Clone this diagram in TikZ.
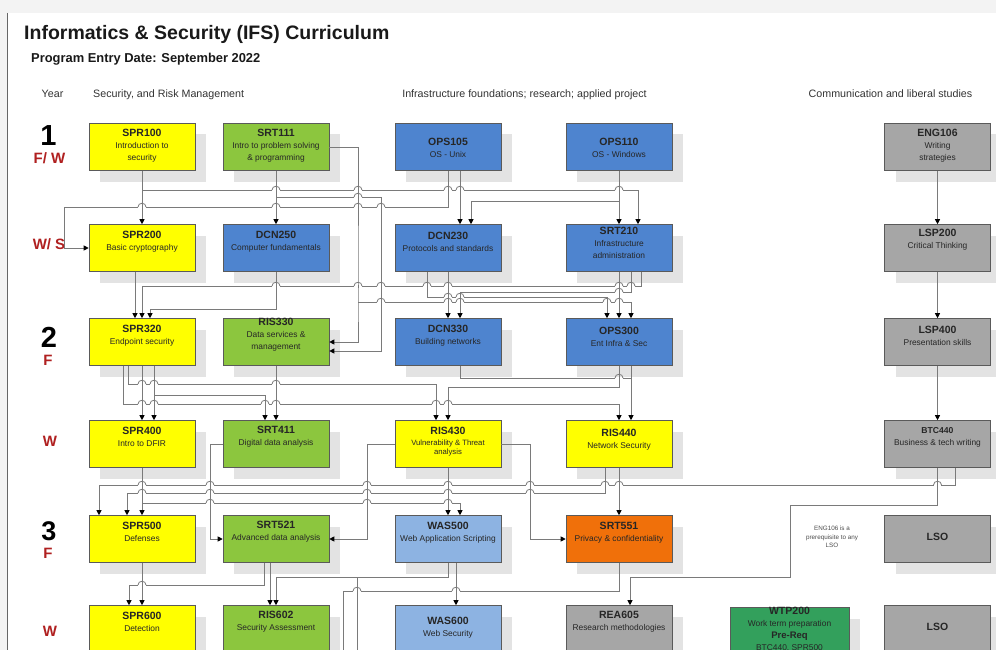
\documentclass[tikz,border=0pt]{standalone}
\usepackage{fontspec}
\setmainfont{Liberation Sans}
\usetikzlibrary{arrows.meta,shadows}
\definecolor{Yel}{HTML}{FFFF00}
\definecolor{Grn}{HTML}{8CC63E}
\definecolor{Blu}{HTML}{4E84CF}
\definecolor{LtBlu}{HTML}{8DB3E2}
\definecolor{Org}{HTML}{F0700A}
\definecolor{Gry}{HTML}{A6A6A6}
\definecolor{DkGrn}{HTML}{33A05C}
\definecolor{Edge}{HTML}{5A5A5A}
\definecolor{Shade}{HTML}{E3E3E3}
\definecolor{Wire}{HTML}{7A7A7A}
\definecolor{YearRed}{HTML}{B02020}
\definecolor{Frame}{HTML}{F3F3F3}

\newcommand{\ccode}[1]{{\fontsize{10.5}{12}\selectfont\bfseries #1}}
% line hop: horizontal wire jumps over a vertical one
\newcommand{\hop}[2]{%
  \fill[white] (#1-3.6,#2-0.9) rectangle (#1+3.6,#2+0.9);
  \draw[conn] (#1,#2-1.5) -- (#1,#2+1.5);
  \draw[conn] (#1-4,#2) .. controls (#1-4,#2-5) and (#1+4,#2-5) .. (#1+4,#2);}

\tikzset{
  cbox/.style={draw=Edge, line width=0.6pt, minimum width=106pt, minimum height=47pt, inner sep=0pt,
    drop shadow={shadow xshift=11pt, shadow yshift=-11pt, fill=Shade, opacity=1}},
  ctext/.style={align=center, inner sep=0pt, text=black!85, font=\fontsize{8.4}{12}\selectfont},
  conn/.style={draw=Wire, line width=0.8pt},
  arr/.style={conn, -{Triangle[length=5pt,width=5pt,color=black]}},
  yr/.style={font=\fontsize{29}{30}\selectfont\bfseries, anchor=base, inner sep=0pt},
  term/.style={text=YearRed, font=\fontsize{15}{16}\selectfont\bfseries, anchor=base, inner sep=0pt},
  head/.style={font=\fontsize{10.7}{12}\selectfont, text=black!80, anchor=base, inner sep=0pt},
}

\begin{document}
\begin{tikzpicture}[x=1pt,y=-1pt]
  \useasboundingbox (0,0) rectangle (996,650);
  \clip (0,0) rectangle (996,650);
  \fill[white] (0,0) rectangle (996,650);
  \fill[Frame] (0,0) rectangle (996,13);
  \fill[Frame] (0,13) rectangle (7,650);
  \draw[black!60, line width=1pt] (7.5,13) -- (7.5,650);

  % titles and column heads
  \node[anchor=base west, inner sep=0pt, font=\fontsize{19.5}{22}\selectfont\bfseries, text=black!90] (title) at (24,40) {Informatics \& Security (IFS) Curriculum};
  \node[anchor=base west, inner sep=0pt, font=\fontsize{12.9}{14}\selectfont\bfseries, text=black!90] (entry) at (31,63) {Program Entry Date: September 2022};
  \node[head] (hyear) at (52.5,98) {Year};
  \node[head, anchor=base west] (hsec) at (93,98) {Security, and Risk Management};
  \node[head] (hinf) at (524.5,98) {Infrastructure foundations; research; applied project};
  \node[head] (hcom) at (890.5,98) {Communication and liberal studies};

  % year and term labels
  \node[yr] (y1) at (48.5,146) {1};
  \node[term] (t1) at (49.5,164) {F/ W};
  \node[term] (t2) at (49,249) {W/ S};
  \node[yr] (y2) at (49,347) {2};
  \node[term] (t3) at (48,365) {F};
  \node[term] (t4) at (50,446) {W};
  \node[yr, font=\fontsize{27}{28}\selectfont\bfseries] (y3) at (49,540) {3};
  \node[term] (t5) at (48,558) {F};
  \node[term] (t6) at (50,636) {W};

  % row 1
  \node[cbox, fill=Yel] (spr100) at (142,147) {};
  \node[ctext] (spr100t) at (142,146) {\ccode{SPR100}\\Introduction to\\security};
  \node[cbox, fill=Grn] (srt111) at (276,147) {};
  \node[ctext] (srt111t) at (276,146) {\ccode{SRT111}\\Intro to problem solving\\\& programming};
  \node[cbox, fill=Blu] (ops105) at (448,147) {};
  \node[ctext] (ops105t) at (448,148) {\ccode{OPS105}\\OS - Unix};
  \node[cbox, fill=Blu] (ops110) at (619,147) {};
  \node[ctext] (ops110t) at (619,148) {\ccode{OPS110}\\OS - Windows};
  \node[cbox, fill=Gry] (eng106) at (937.5,147) {};
  \node[ctext] (eng106t) at (937.5,146) {\ccode{ENG106}\\Writing\\strategies};

  % row 2
  \node[cbox, fill=Yel] (spr200) at (142,248) {};
  \node[ctext] (spr200t) at (142,242) {\ccode{SPR200}\\Basic cryptography};
  \node[cbox, fill=Blu] (dcn250) at (276,248) {};
  \node[ctext] (dcn250t) at (276,242) {\ccode{DCN250}\\Computer fundamentals};
  \node[cbox, fill=Blu] (dcn230) at (448,248) {};
  \node[ctext] (dcn230t) at (448,242) {\ccode{DCN230}\\Protocols and standards};
  \node[cbox, fill=Blu] (srt210) at (619,248) {};
  \node[ctext] (srt210t) at (619,243) {\ccode{SRT210}\\Infrastructure\\administration};
  \node[cbox, fill=Gry] (lsp200) at (937.5,248) {};
  \node[ctext] (lsp200t) at (937.5,240) {\ccode{LSP200}\\Critical Thinking};

  % row 3
  \node[cbox, fill=Yel] (spr320) at (142,342) {};
  \node[ctext] (spr320t) at (142,335.5) {\ccode{SPR320}\\Endpoint security};
  \node[cbox, fill=Grn] (ris330) at (276,342) {};
  \node[ctext] (ris330t) at (276,335) {\ccode{RIS330}\\Data services \&\\management};
  \node[cbox, fill=Blu] (dcn330) at (448,342) {};
  \node[ctext] (dcn330t) at (448,335.5) {\ccode{DCN330}\\Building networks};
  \node[cbox, fill=Blu] (ops300) at (619,342) {};
  \node[ctext] (ops300t) at (619,337) {\ccode{OPS300}\\Ent Infra \& Sec};
  \node[cbox, fill=Gry] (lsp400) at (937.5,342) {};
  \node[ctext] (lsp400t) at (937.5,335.5) {\ccode{LSP400}\\Presentation skills};

  % row 4
  \node[cbox, fill=Yel] (spr400) at (142,444) {};
  \node[ctext] (spr400t) at (142,437) {\ccode{SPR400}\\Intro to DFIR};
  \node[cbox, fill=Grn] (srt411) at (276,444) {};
  \node[ctext] (srt411t) at (276,437) {\ccode{SRT411}\\Digital data analysis};
  \node[cbox, fill=Yel] (ris430) at (448,444) {};
  \node[ctext, font=\fontsize{7.7}{8.5}\selectfont] (ris430t) at (448,441.5) {\ccode{RIS430}\\[2.5pt]Vulnerability \& Threat\\analysis};
  \node[cbox, fill=Yel] (ris440) at (619,444) {};
  \node[ctext] (ris440t) at (619,439.5) {\ccode{RIS440}\\Network Security};
  \node[cbox, fill=Gry] (btc440) at (937.5,444) {};
  \node[ctext] (btc440t) at (937.5,437.5) {{\fontsize{8.6}{10}\selectfont\bfseries BTC440}\\Business \& tech writing};

  % row 5
  \node[cbox, fill=Yel] (spr500) at (142,539) {};
  \node[ctext] (spr500t) at (142,531.5) {\ccode{SPR500}\\Defenses};
  \node[cbox, fill=Grn] (srt521) at (276,539) {};
  \node[ctext] (srt521t) at (276,531.5) {\ccode{SRT521}\\Advanced data analysis};
  \node[cbox, fill=LtBlu] (was500) at (448,539) {};
  \node[ctext] (was500t) at (448,533) {\ccode{WAS500}\\Web Application Scripting};
  \node[cbox, fill=Org] (srt551) at (619,539) {};
  \node[ctext] (srt551t) at (619,533) {\ccode{SRT551}\\Privacy \& confidentiality};
  \node[cbox, fill=Gry] (lso1) at (937.5,539) {};
  \node[ctext] (lso1t) at (937.5,537) {\ccode{LSO}};
  \node[ctext, font=\fontsize{6.3}{8.5}\selectfont, text=black!70] (note) at (832,537) {ENG106 is a\\prerequisite to any\\LSO};

  % row 6
  \node[cbox, fill=Yel] (spr600) at (142,629) {};
  \node[ctext] (spr600t) at (142,622) {\ccode{SPR600}\\Detection};
  \node[cbox, fill=Grn] (ris602) at (276,629) {};
  \node[ctext] (ris602t) at (276,622) {\ccode{RIS602}\\Security Assessment};
  \node[cbox, fill=LtBlu] (was600) at (448,629) {};
  \node[ctext] (was600t) at (448,628) {\ccode{WAS600}\\Web Security};
  \node[cbox, fill=Gry] (rea605) at (619,629) {};
  \node[ctext] (rea605t) at (619,622) {\ccode{REA605}\\Research methodologies};
  \node[cbox, fill=DkGrn, minimum width=119pt] (wtp200) at (789.5,631) {};
  \node[ctext, anchor=north] (wtp200t) at (789.5,607) {\ccode{WTP200}\\Work term preparation\\{\fontsize{9.5}{11}\selectfont\bfseries Pre-Req}\\BTC440, SPR500};
  \node[cbox, fill=Gry] (lso2) at (937.5,629) {};
  \node[ctext] (lso2t) at (937.5,627) {\ccode{LSO}};

  \coordinate (offa) at (357,660);
  \coordinate (offb) at (343,660);

  % year 1 to year 1 (W/S)
  \draw[arr] (eng106.south) -- (lsp200.north);
  \draw[arr] (spr100.south) -- (spr200.north);
  \draw[arr] (spr100.south) |- (638,190) -- ([xshift=19pt]srt210.north);
  \draw[arr] (srt111.south) -- (dcn250.north);
  \draw[arr] (srt111.south) |- (381,197) |- ([yshift=-9pt]ris330.east);
  \draw[arr] (srt111.east) -| (358,302) |- (ris330.east);
  \draw[arr] (358,302) -| ([xshift=12pt]ops300.north);
  \draw[arr] ([xshift=12pt]ops105.south) -- ([xshift=12pt]dcn230.north);
  \draw[arr] (ops105.south) |- (64,207) |- (spr200.west);
  \draw[arr] (ops110.south) -- (srt210.north);
  \draw[arr] (ops110.south) |- (471,201) -- ([xshift=23pt]dcn230.north);

  % into year 2 (F)
  \draw[arr] (lsp200.south) -- (lsp400.north);
  \draw[arr] ([xshift=-7pt]spr200.south) -- ([xshift=-7pt]spr320.north);
  \draw[arr] (dcn250.south) |- (150,309) -- ([xshift=8pt]spr320.north);
  \draw[arr] ([xshift=22pt]srt210.south) |- (142,286) -- (spr320.north);
  \draw[arr] (dcn230.south) -- (dcn330.north);
  \draw[arr] ([xshift=-21pt]dcn230.south) |- (607,297) -- ([xshift=-12pt]ops300.north);
  \draw[arr] ([xshift=12pt]srt210.south) |- (460,292) -- ([xshift=12pt]dcn330.north);
  \draw[arr] (srt210.south) -- (ops300.north);

  % into year 2 (W)
  \draw[arr] (lsp400.south) -- (btc440.north);
  \draw[arr] (spr320.south) -- (spr400.north);
  \draw[arr] ([xshift=12pt]spr320.south) -- ([xshift=12pt]spr400.north);
  \draw[arr] (154,395) -| ([xshift=-11pt]srt411.north);
  \draw[arr] (ris330.south) -- (srt411.north);
  \draw[arr] ([xshift=-14pt]spr320.south) |- (436,384) -- ([xshift=-12pt]ris430.north);
  \draw[arr] ([xshift=-19pt]spr320.south) |- (619,404) -- (ris440.north);
  \draw[arr] (ops300.south) |- (448,387) -- (ris430.north);
  \draw[arr] ([xshift=12pt]ops300.south) -- ([xshift=12pt]ris440.north);
  \draw[conn] ([xshift=12pt]dcn330.south) |- (631,378);

  % into year 3 (F)
  \draw[arr] (spr400.south) -- (spr500.north);
  \draw[arr] (142,503) -| ([xshift=12pt]was500.north);
  \draw[arr] ([xshift=18pt]btc440.south) |- (99,485) -- ([xshift=-43pt]spr500.north);
  \draw[arr] ([xshift=-14pt]ris440.south) |- (127,493) -- ([xshift=-15pt]spr500.north);
  \draw[arr] (ris430.south) -- (was500.north);
  \draw[arr] (ris430.west) -| (367,539) -- (srt521.east);
  \draw[arr] (srt411.west) -| (210,539) -- (srt521.west);
  \draw[arr] (ris430.east) -| (530,539) -- (srt551.west);
  \draw[arr] (ris440.south) -- (srt551.north);
  \draw[arr] (btc440.south) |- (790,505) |- (630,577) -- ([xshift=11pt]rea605.north);

  % into year 3 (W)
  \draw[arr] (spr500.south) -- (spr600.north);
  \draw[arr] ([xshift=-12pt]srt521.south) |- (129,585) -- ([xshift=-13pt]spr600.north);
  \draw[arr] ([xshift=-6pt]srt521.south) -- ([xshift=-6pt]ris602.north);
  \draw[arr] (was500.south) |- (276,577) -- (ris602.north);
  \draw[conn] (357,577) -- (offa);
  \draw[arr] ([xshift=8pt]was500.south) -- ([xshift=8pt]was600.north);
  \draw[conn] (srt551.south) |- (343,591) -- (offb);

  % hops
  \hop{276}{190} \hop{358}{190} \hop{448}{190} \hop{460}{190} \hop{619}{190}
  \hop{358}{197}
  \hop{381}{207} \hop{358}{207} \hop{276}{207} \hop{142}{207}
  \hop{631}{286} \hop{619}{286} \hop{448}{286} \hop{427}{286} \hop{381}{286} \hop{358}{286} \hop{276}{286}
  \hop{619}{292}
  \hop{448}{297} \hop{460}{297}
  \hop{381}{302} \hop{448}{302} \hop{460}{302} \hop{607}{302} \hop{619}{302}
  \hop{619}{378}
  \hop{142}{384} \hop{154}{384} \hop{276}{384}
  \hop{142}{404} \hop{154}{404} \hop{265}{404} \hop{276}{404} \hop{436}{404} \hop{448}{404}
  \hop{937.5}{485} \hop{619}{485} \hop{605}{485} \hop{530}{485} \hop{448}{485} \hop{367}{485} \hop{210}{485} \hop{142}{485}
  \hop{530}{493} \hop{448}{493} \hop{367}{493} \hop{210}{493} \hop{142}{493}
  \hop{210}{503} \hop{367}{503} \hop{448}{503}
  \hop{142}{585}
  \hop{456}{591} \hop{357}{591}
\end{tikzpicture}
\end{document}
